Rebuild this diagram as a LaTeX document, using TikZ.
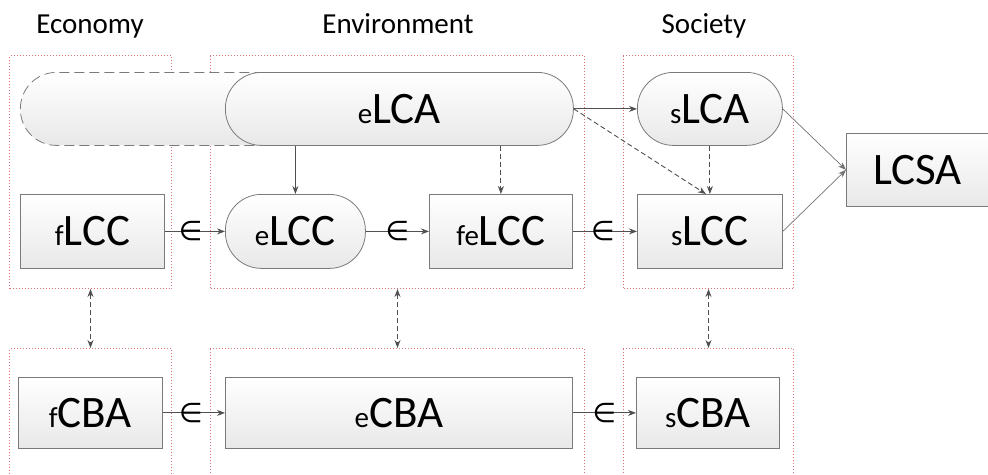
\documentclass[tikz,border=0pt]{standalone}
\usepackage{fontspec}
\setmainfont{Carlito}
\newfontfamily\dvsym{DejaVu Sans}
\usetikzlibrary{arrows.meta,calc}
\definecolor{boxline}{HTML}{7A7A7A}
\definecolor{arrowc}{HTML}{505050}
\definecolor{grpred}{HTML}{D9707A}
\newcommand{\lbl}[2]{{\fontsize{29}{30}\selectfont #1}{\fontsize{45}{48}\selectfont #2}}
\newcommand{\eur}{{\dvsym\fontsize{27}{28}\selectfont ∈}}
\tikzset{
  base/.style={draw=boxline, line width=0.8pt, top color=white, bottom color=black!9, inner sep=0pt, anchor=north west},
  boxn/.style={base},
  pill/.style={base, rounded corners=36pt},
  grp/.style={draw=grpred, dotted, line width=1pt, anchor=north west, inner sep=0pt},
  hdr/.style={font=\fontsize{29}{30}\selectfont, anchor=base},
  arr/.style={draw=arrowc, line width=0.9pt, -{Stealth[length=8pt,width=6pt]}},
  darr/.style={arr, dashed, dash pattern=on 5pt off 3pt},
  dbl/.style={draw=arrowc, line width=0.9pt, dashed, dash pattern=on 5pt off 3pt, {Stealth[length=8pt,width=6pt]}-{Stealth[length=8pt,width=6pt]}},
  thin/.style={draw=arrowc!80, line width=0.7pt, -{Stealth[length=8pt,width=6pt]}},
  sym/.style={inner sep=0pt, fill=none}
}
\begin{document}
\begin{tikzpicture}[x=1pt,y=-1pt]
\useasboundingbox (0,0) rectangle (988,474);
% headers
\node[hdr] (hE) at (90,33) {Economy};
\node[hdr] (hV) at (398,33) {Environment};
\node[hdr] (hS) at (704,33) {Society};
% groups
\node[grp, minimum width=162pt, minimum height=233pt] (gEt) at (9,55) {};
\node[grp, minimum width=374pt, minimum height=233pt] (gVt) at (210,55) {};
\node[grp, minimum width=170pt, minimum height=233pt] (gSt) at (623,55) {};
\node[grp, minimum width=162pt, minimum height=140pt] (gEb) at (9,348) {};
\node[grp, minimum width=374pt, minimum height=140pt] (gVb) at (210,348) {};
\node[grp, minimum width=170pt, minimum height=140pt] (gSb) at (623,348) {};
% ghost pill
\node[pill, dashed, dash pattern=on 10pt off 5pt, minimum width=280pt, minimum height=73pt] (ghost) at (20,72) {};
% nodes
\node[pill, minimum width=348pt, minimum height=73pt] (eLCA) at (225,72) {\lbl{e}{LCA}};
\node[pill, minimum width=145pt, minimum height=73pt] (sLCA) at (637,72) {\lbl{s}{LCA}};
\node[boxn, minimum width=144pt, minimum height=74pt] (fLCC) at (20,194) {\lbl{f}{LCC}};
\node[pill, minimum width=140pt, minimum height=74pt] (eLCC) at (225,194) {\lbl{e}{LCC}};
\node[boxn, minimum width=143pt, minimum height=74pt] (feLCC) at (429,194) {\lbl{fe}{LCC}};
\node[boxn, minimum width=145pt, minimum height=74pt] (sLCC) at (637,194) {\lbl{s}{LCC}};
\node[boxn, minimum width=142pt, minimum height=73pt] (LCSA) at (846,133) {{\fontsize{45}{48}\selectfont LCSA}};
\node[boxn, minimum width=144pt, minimum height=71pt] (fCBA) at (18,377) {\lbl{f}{CBA}};
\node[boxn, minimum width=347pt, minimum height=71pt] (eCBA) at (225,377) {\lbl{e}{CBA}};
\node[boxn, minimum width=143pt, minimum height=71pt] (sCBA) at (636,377) {\lbl{s}{CBA}};
% arrows with symbol
\draw[arr] (fLCC.east) -- node[sym, pos=0.43] (s1) {\eur} (eLCC.west);
\draw[arr] (eLCC.east) -- node[sym, pos=0.5] (s2) {\eur} (feLCC.west);
\draw[arr] (feLCC.east) -- node[sym, pos=0.47] (s3) {\eur} (sLCC.west);
\draw[arr] (fCBA.east) -- node[sym, pos=0.45] (s4) {\eur} (eCBA.west);
\draw[arr] (eCBA.east) -- node[sym, pos=0.5] (s5) {\eur} (sCBA.west);
% top arrows
\draw[arr] (eLCA.south -| eLCC.north) -- (eLCC.north);
\draw[darr] (eLCA.south -| feLCC.north) -- (feLCC.north);
\draw[arr] (eLCA.east) -- (sLCA.west);
\draw[darr] (eLCA.east) -- ($(sLCC.north)+(-4,0)$);
\draw[darr] (sLCA.south) -- (sLCC.north);
\draw[thin] (sLCA.east) -- (LCSA.west);
\draw[thin] (sLCC.east) -- (LCSA.west);
% vertical double arrows
\draw[dbl] (gEt.south) -- (gEb.north);
\draw[dbl] (gVt.south) -- (gVb.north);
\draw[dbl] (gSt.south) -- (gSb.north);
\end{tikzpicture}
\end{document}
